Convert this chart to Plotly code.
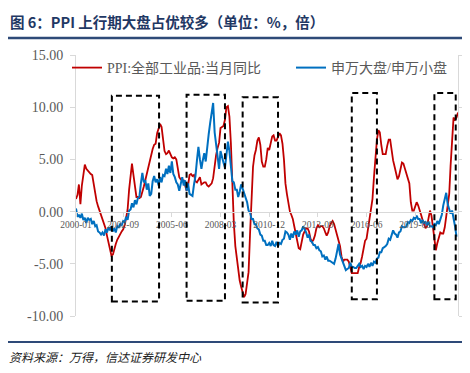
import pandas as pd
import plotly.graph_objects as go

# ---------------- data ----------------
ppi = [
    1.2, 1.6, 2.6, 0.7, 2.5, 3.8, 4.5, 4.1, 3.9, 3.7, 3.6, 3.5,
    2.5, 1.4, 1.0, 0.5, 0.1, -0.5, -0.8, -1.2, -1.6, -2.3, -3.0, -3.7,
    -4.2, -4.1, -3.5, -3.1, -2.7, -2.4, -2.2, -1.9, -1.7, -1.3, -0.6, 0.2,
    2.1, 3.8, 4.6, 3.5, 2.2, 1.4, 1.4, 1.3, 1.4, 1.8, 2.4, 3.0,
    3.6, 4.2, 5.0, 5.6, 6.0, 6.4, 6.5, 7.5, 7.9, 8.4, 8.1, 7.1,
    5.8, 5.5, 5.6, 5.85, 5.6, 5.2, 5.1, 5.2, 5.0, 4.0, 3.3, 3.1,
    3.0, 3.0, 2.5, 2.0, 2.5, 3.5, 3.6, 3.4, 3.5, 2.9, 2.8, 3.1,
    3.3, 2.6, 2.7, 2.8, 2.8, 2.5, 2.4, 2.6, 2.7, 3.2, 4.6, 5.4,
    6.1, 6.6, 8.0, 8.1, 8.2, 8.8, 10.0, 10.1, 9.1, 6.6, 2.0, -1.1,
    -3.3, -4.5, -6.0, -6.6, -7.2, -7.8, -8.2, -7.9, -7.0, -5.8, -2.1, 1.7,
    4.3, 5.4, 5.9, 6.8, 7.1, 6.4, 4.8, 4.3, 4.3, 5.0, 6.1, 5.9,
    6.6, 7.2, 7.3, 6.8, 6.8, 7.1, 7.5, 7.3, 6.5, 5.0, 2.7, 1.7,
    0.7, 0.0, -0.3, -0.7, -1.4, -2.1, -2.9, -3.5, -3.6, -2.8, -2.2, -1.9,
    -1.6, -1.6, -1.9, -2.6, -2.9, -2.7, -2.3, -1.6, -1.3, -1.5, -1.4, -1.4,
    -1.6, -2.0, -2.3, -2.0, -1.4, -1.1, -0.9, -1.2, -1.8, -2.2, -2.7, -3.3,
    -4.3, -4.8, -4.6, -4.6, -4.6, -4.8, -5.4, -5.9, -5.9, -5.9, -5.9, -5.9,
    -5.3, -4.9, -4.3, -3.4, -2.8, -2.6, -1.7, -0.8, 0.1, 1.2, 3.3, 5.5,
    6.9, 7.8, 7.6, 6.4, 5.5, 5.5, 5.5, 6.3, 6.9, 6.9, 5.8, 4.9,
    4.3, 3.7, 3.1, 3.4, 4.1, 4.7, 4.6, 4.1, 3.6, 3.3, 2.7, 0.9,
    0.1, 0.1, 0.4, 0.9, 0.6, 0.0, -0.3, -0.8, -1.2, -1.6, -1.4, -0.5,
    0.1, -0.4, -1.5, -3.1, -3.7, -3.0, -2.4, -2.0, -2.1, -2.1, -1.5, -0.4,
    0.3, 1.7, 4.4, 6.8, 9.0, 8.8, 9.0, 9.5,
]

big_small = [
    0.3, -0.5, -0.3, -0.6, -0.2, -0.8, -0.6, -1.1, -0.6, -0.8, -0.7, -1.2,
    -0.9, -1.4, -1.3, -1.9, -2.0, -2.2, -2.0, -2.3, -1.7, -2.0, -1.5, -1.8,
    -1.4, -1.9, -1.6, -2.0, -1.4, -1.5, -1.2, -1.3, -0.9, -1.0, -0.5, -0.8,
    0.1, 0.2, 0.8, 0.4, 1.1, 0.7, 1.3, 1.4, 2.7, 3.7, 2.8, 3.0,
    2.1, 2.7, 1.5, 1.7, 2.9, 3.4, 2.8, 3.1, 2.5, 3.3, 2.8, 3.5,
    3.4, 4.1, 3.6, 4.4, 3.7, 4.8, 3.6, 3.3, 2.8, 2.6, 2.0, 2.8,
    3.3, 2.5, 3.0, 2.0, 2.7, 1.7, 1.6, 1.5, 2.6, 3.4, 4.9, 6.2,
    5.0, 4.1, 4.9, 5.6, 4.8, 6.5, 7.4, 8.5, 9.3, 10.4, 7.6, 6.4,
    4.8, 4.1, 5.8, 5.1, 4.7, 4.2, 5.5, 6.7, 5.8, 4.4, 2.9, 2.8,
    2.1, 2.1, 1.4, 1.9, 2.6, 2.2, 1.7, 1.3, 0.9, 0.1, -0.1, -0.7,
    -0.7, -1.2, -1.2, -1.6, -1.7, -2.2, -2.3, -2.8, -2.8, -3.2, -3.2, -3.0,
    -3.3, -2.8, -3.2, -3.3, -2.9, -3.3, -3.0, -3.1, -2.7, -2.6, -1.9, -2.0,
    -2.2, -2.7, -2.1, -2.5, -1.9, -2.2, -1.8, -2.4, -1.9, -1.8, -1.4, -1.7,
    -2.0, -2.5, -2.2, -2.8, -2.9, -3.2, -3.2, -3.5, -3.4, -3.7, -3.8, -4.3,
    -4.2, -4.6, -4.3, -4.7, -4.7, -4.8, -4.9, -5.0, -4.5, -3.9, -3.1, -4.1,
    -4.5, -5.0, -5.2, -5.6, -5.5, -5.4, -4.9, -5.3, -5.3, -5.4, -5.4, -5.2,
    -5.0, -5.3, -5.2, -5.5, -5.2, -5.3, -5.0, -5.3, -4.9, -5.2, -4.8, -4.9,
    -4.5, -4.4, -3.9, -3.9, -3.5, -3.4, -3.3, -3.1, -2.6, -2.7, -2.1, -1.8,
    -2.1, -2.2, -2.5, -2.0, -1.9, -1.4, -1.5, -1.5, -1.4, -1.0, -1.1, -0.8,
    -0.9, -0.6, -0.7, -0.4, -0.7, -0.7, -1.1, -0.8, -1.1, -1.0, -1.3, -1.0,
    -1.4, -1.4, -1.5, -1.2, -1.3, -0.9, -1.2, -0.7, -0.3, 0.6, 1.1, 1.8,
    0.7, 0.3, -0.2, 0.1, -0.5, -1.4, -2.4,
]

x_tick_dates = ["2000-01-01", "2002-09-01", "2005-06-01", "2008-03-01",
                "2010-12-01", "2013-09-01", "2016-06-01", "2019-03-01"]
x_tick_labels = ["2000-01", "2002-09", "2005-06", "2008-03",
                 "2010-12", "2013-09", "2016-06", "2019-03"]
y_tick_vals = [-10, -5, 0, 5, 10, 15]
y_tick_labels = ["-10.00", "-5.00", "0.00", "5.00", "10.00", "15.00"]

box_start = ["2002-01-10", "2006-04-01", "2009-06-01", "2015-08-01", "2020-04-01"]
box_end = ["2004-09-10", "2008-06-01", "2011-06-01", "2017-01-01", "2021-06-15"]
box_top = [11.1, 11.2, 10.95, 11.35, 11.35]
box_bottom = [-8.6, -8.55, -8.7, -8.4, -8.4]

series_names = ["PPI:全部工业品:当月同比", "申万大盘/申万小盘"]
title_text = "图 6：PPI 上行期大盘占优较多（单位：%，倍）"
source_text = "资料来源：万得，信达证券研发中心"

# ---------------- layout geometry ----------------
# the page body has an 8px default margin, so the figure is drawn 8px smaller
OFF = 8
PAGE_W, PAGE_H = 470, 373
PX0, PX1, PY0, PY1 = 76, 458, 55, 316      # plot area in page pixels
W, H = PAGE_W - OFF, PAGE_H - OFF
L, T = PX0 - OFF, PY0 - OFF
R, B = W - (PX1 - OFF), H - (PY1 - OFF)


def fx(px):
    return (px - PX0) / (PX1 - PX0)


def fy(py):
    return (PY1 - py) / (PY1 - PY0)


ppi_dates = pd.date_range("2000-01-01", periods=len(ppi), freq="MS")
bs_dates = pd.date_range("2000-01-01", periods=len(big_small), freq="MS")

serif = "Liberation Serif, Times New Roman, Noto Sans CJK SC, serif"
grey = "#595959"
axis_grey = "#d9d9d9"

fig = go.Figure()
fig.add_trace(go.Scatter(x=ppi_dates, y=ppi, mode="lines", name=series_names[0],
                         line=dict(color="#c00000", width=1.8), legend="legend",
                         yaxis="y"))
fig.add_trace(go.Scatter(x=bs_dates, y=big_small, mode="lines", name=series_names[1],
                         line=dict(color="#0070c0", width=2), legend="legend2",
                         yaxis="y2"))

for s, e, t, b in zip(box_start, box_end, box_top, box_bottom):
    fig.add_shape(type="rect", xref="x", yref="y", x0=s, x1=e, y0=b, y1=t,
                  line=dict(color="black", width=2, dash="6px,4px"),
                  fillcolor="rgba(0,0,0,0)", layer="above")

# title rule and footer rule
fig.add_shape(type="line", xref="paper", yref="paper", x0=fx(7), x1=fx(471),
              y0=fy(38), y1=fy(38), line=dict(color="#2e4a78", width=2.5))
fig.add_shape(type="line", xref="paper", yref="paper", x0=fx(7), x1=fx(471),
              y0=fy(342), y1=fy(342), line=dict(color="#2e4a78", width=2))

fig.add_annotation(text="<b>" + title_text + "</b>", xref="paper", yref="paper",
                   x=fx(8), y=fy(21), xanchor="left", yanchor="middle",
                   showarrow=False,
                   font=dict(family="Noto Sans CJK SC", size=14.5, color="#1f3864"))
fig.add_annotation(text="<i>" + source_text + "</i>", xref="paper", yref="paper",
                   x=fx(7), y=fy(356), xanchor="left", yanchor="middle",
                   showarrow=False,
                   font=dict(family="Noto Sans CJK SC", size=12, color="#222222"))

fig.update_layout(
    width=W, height=H,
    margin=dict(l=L, r=R, t=T, b=B, pad=0, autoexpand=False),
    paper_bgcolor="white", plot_bgcolor="white",
    showlegend=True,
    legend=dict(x=fx(67), y=fy(68), xanchor="left", yanchor="middle",
                orientation="h", bgcolor="rgba(0,0,0,0)",
                font=dict(family=serif, size=14, color=grey)),
    legend2=dict(x=fx(291), y=fy(68), xanchor="left", yanchor="middle",
                 orientation="h", bgcolor="rgba(0,0,0,0)",
                 font=dict(family=serif, size=14, color=grey)),
    xaxis=dict(type="date", range=["2000-01-01", "2021-08-01"],
               anchor="free", position=0.4, automargin=False,
               showgrid=False, zeroline=False,
               showline=True, linecolor=axis_grey, linewidth=1,
               ticks="outside", ticklen=4, tickcolor=axis_grey,
               tickvals=x_tick_dates, ticktext=x_tick_labels,
               tickfont=dict(family=serif, size=9.5, color=grey)),
    yaxis=dict(range=[-10, 15], showgrid=False, zeroline=False, automargin=False,
               showline=True, linecolor=axis_grey, linewidth=1,
               ticks="outside", ticklen=5, tickcolor=axis_grey,
               tickvals=y_tick_vals, ticktext=y_tick_labels,
               ticklabelstandoff=4,
               tickfont=dict(family=serif, size=14, color=grey)),
    yaxis2=dict(range=[-10, 15], overlaying="y", side="right", automargin=False,
                showgrid=False, zeroline=False,
                showline=True, linecolor=axis_grey, linewidth=1,
                ticks="outside", ticklen=5, tickcolor=axis_grey,
                tickvals=y_tick_vals, showticklabels=False),
)

fig.write_html("out.html")
